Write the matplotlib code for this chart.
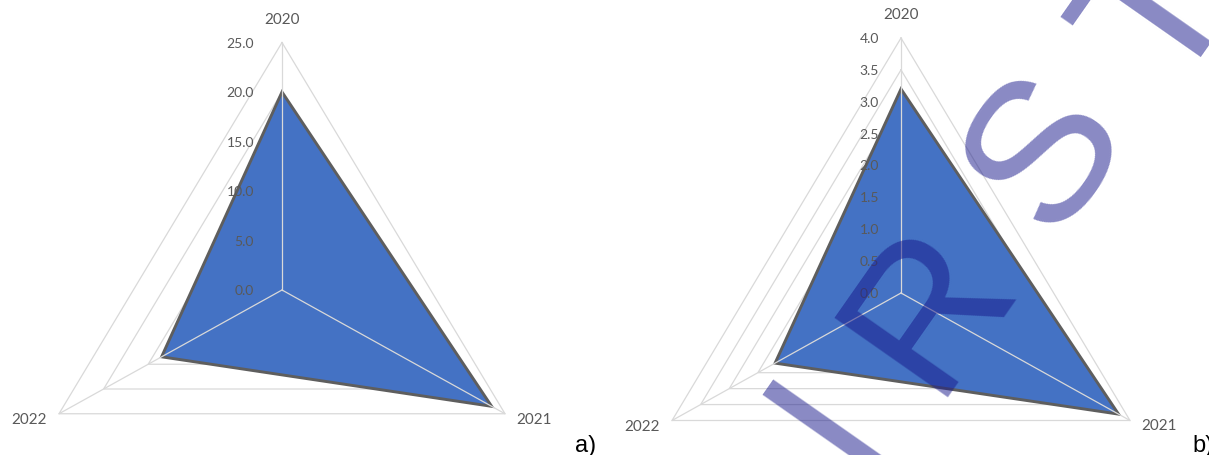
import numpy as np
import matplotlib
matplotlib.use('Agg')
import matplotlib.pyplot as plt
from matplotlib.transforms import offset_copy

categories = ['2020', '2021', '2022']
values_a = [20.0, 23.5, 13.5]
values_b = [3.2, 3.8, 2.2]
ticks_a = [0.0, 5.0, 10.0, 15.0, 20.0, 25.0]
ticks_b = [0.0, 0.5, 1.0, 1.5, 2.0, 2.5, 3.0, 3.5, 4.0]
panel_labels = ['a)', 'b)']
watermark_letters = ['I', 'R', 'S', 'T']

W, H = 1209, 456
fig = plt.figure(figsize=(W / 100, H / 100), dpi=100)

FILL = '#4472C4'
EDGE = '#5E5E5E'
GRID = '#D9D9D9'
TXT = '#595959'
FONT = ['Lato', 'DejaVu Sans']

angles = np.deg2rad([0.0, 120.0, 240.0])


def polar_xy(r, ang):
    r = np.asarray(r, float)
    return r * np.sin(ang), r * np.cos(ang)


def radar(x0, x1, cx, cy, sx, sy, values, ticks, tick_gap):
    ax = fig.add_axes([x0 / W, 0, (x1 - x0) / W, 1])
    ax.set_xlim((x0 - cx) / sx, (x1 - cx) / sx)
    ax.set_ylim((cy - H) / sy, cy / sy)
    ax.axis('off')
    rmax = ticks[-1]
    closed = np.r_[angles, angles[0]]
    for t in ticks[1:]:
        xs, ys = polar_xy([t] * 4, closed)
        ax.plot(xs, ys, color=GRID, lw=0.9, zorder=1, solid_joinstyle='miter')
    vx, vy = polar_xy(values, angles)
    ax.fill(vx, vy, facecolor=FILL, edgecolor=EDGE, lw=2.1, zorder=2,
            joinstyle='miter')
    for a in angles:
        xs, ys = polar_xy([0, rmax], a)
        ax.plot(xs, ys, color=GRID, lw=0.9, zorder=3)
    tr = offset_copy(ax.transData, fig=fig, x=-tick_gap, y=0, units='dots')
    for t in ticks:
        ax.text(0, t, f'{t:.1f}', transform=tr, ha='right', va='center',
                color=TXT, fontsize=10, family=FONT, zorder=4)
    offs = [(0, 24), (29, -5), (-30, -5)]
    for c, a, (dx, dy) in zip(categories, angles, offs):
        x, y = polar_xy(rmax, a)
        trc = offset_copy(ax.transData, fig=fig, x=dx, y=dy, units='dots')
        ax.text(x, y, c, transform=trc, ha='center', va='center',
                color=TXT, fontsize=11, family=FONT, zorder=4)
    return ax


radar(0, 604, 282, 291, 10.3, 9.9, values_a, ticks_a, 28)
radar(604, W, 901, 294, 66.1, 63.75, values_b, ticks_b, 22)

# panel labels
fig.text(575 / W, 1 - 452 / H, panel_labels[0], ha='left', va='baseline',
         fontsize=17, family='Liberation Sans', color='black')
fig.text(1192 / W, 1 - 452 / H, panel_labels[1], ha='left', va='baseline',
         fontsize=17, family='Liberation Sans', color='black')

# watermark
wm_size = 145
E = wm_size * 100 / 72
rot = 55
shift = 0.358 * E * np.array([np.sin(np.deg2rad(rot)), np.cos(np.deg2rad(rot))])
wm_centers = [(814, 410), (914, 296), (1032, 141), (1146, 4)]
for letter, (px, py) in zip(watermark_letters, wm_centers):
    ax_, ay_ = px + shift[0], py + shift[1]
    fig.text(ax_ / W, 1 - ay_ / H, letter, rotation=rot, rotation_mode='anchor',
             ha='center', va='baseline', fontsize=wm_size,
             family='Liberation Sans', color=(21 / 255, 21 / 255, 137 / 255),
             alpha=0.5, zorder=10)

fig.savefig('out.png', dpi=100)
